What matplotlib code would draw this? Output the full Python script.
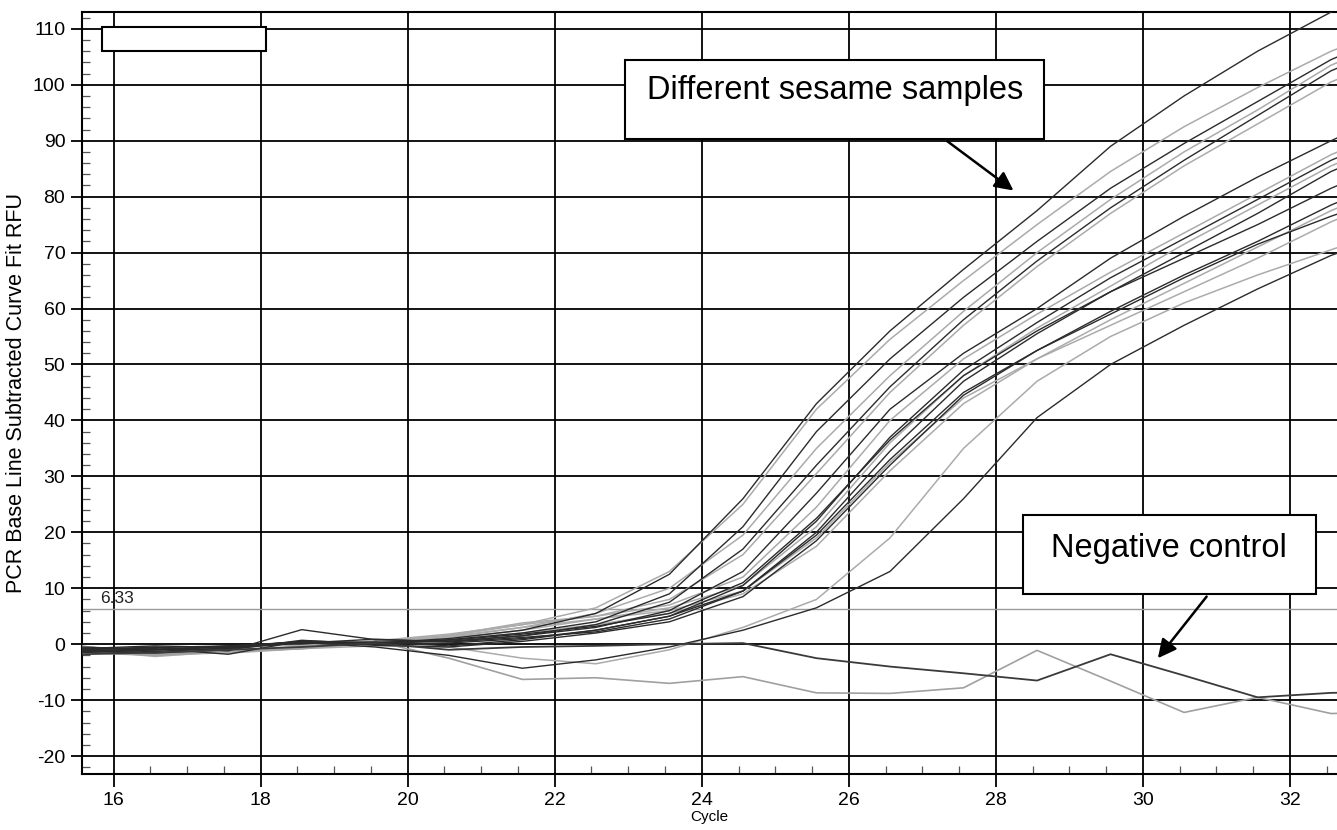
import matplotlib
matplotlib.use("Agg")
import matplotlib.pyplot as plt
from matplotlib.patches import Rectangle
from matplotlib.ticker import MultipleLocator

plt.rcParams['font.family'] = ['Liberation Sans', 'DejaVu Sans']
plt.rcParams['axes.unicode_minus'] = False

# cycle positions of the fitted points
cycles = [15.56, 16.56, 17.56, 18.56, 19.56, 20.56, 21.56, 22.56, 23.56, 24.56,
          25.56, 26.56, 27.56, 28.56, 29.56, 30.56, 31.56, 32.56, 33.56]

# sesame samples, dark traces
dark_a = [-1.0, -0.6, -0.3, 0.4, 0.2, 1.0, 2.5, 5.5, 12.5, 26, 43, 56, 67, 77.5, 89, 98, 106, 113, 119]
dark_c = [-1.5, -1.0, -0.5, 0.5, 0.0, 0.8, 2.0, 4.0, 9.0, 21, 38, 51, 62, 72, 81.5, 89.5, 97, 104.5, 110]
dark_e = [-1.2, -0.8, -1.8, 0.6, 0.2, 0.5, 1.5, 3.5, 7.5, 17, 32, 46, 58, 68.5, 78, 86.5, 94.5, 102.5, 108]
dark_g = [-1.0, -0.5, -1.2, 2.6, 0.8, 0.5, 1.5, 3.0, 6.0, 13, 27, 42, 52, 60, 69, 76.5, 83.5, 90, 96]
dark_i = [-1.3, -1.6, -1.0, 0.7, 0.0, 0.2, 1.0, 2.5, 5.0, 10.5, 22, 37, 49, 57.5, 65.5, 72.5, 79.5, 86.5, 92]
dark_k = [-0.8, -0.3, -0.6, 0.2, 0.9, 0.4, 1.2, 2.2, 4.5, 9.5, 20, 34.5, 47, 55.5, 63, 70, 77, 84.5, 90]
dark_l = [-1.1, -1.3, -0.7, 0.5, -0.2, -0.5, 0.5, 2.0, 4.0, 8.5, 18.5, 32, 44.5, 52.5, 59.5, 66, 72, 78.5, 84]
dark_n = [-1.4, -1.0, -0.3, 0.1, 0.4, -0.3, 0.8, 2.5, 5.0, 9.5, 19.5, 33, 45, 52.5, 59, 65.5, 71.5, 76.5, 81]
dark_p = [-0.7, -0.9, -0.4, 0.4, 0.3, 0.7, 1.8, 3.2, 5.5, 11, 22.5, 36.5, 48, 56, 63, 69, 75, 81.5, 87]
dark_r = [-0.5, -1.0, -0.8, 0.3, -0.5, -2.0, -4.3, -2.8, -0.5, 2.5, 6.5, 13, 26, 40.5, 50, 57, 63.5, 69.5, 74]

# sesame samples, light traces
light_b = [-0.5, -1.2, -0.8, 0.2, 0.5, 1.5, 3.5, 6.5, 13, 25, 42, 54.5, 65, 75, 84.5, 92.5, 99.5, 106, 111]
light_d = [-0.8, -1.5, -1.0, -0.5, 0.4, 1.2, 3.0, 5.5, 10, 19.5, 35, 48, 59.5, 70, 79.5, 88, 95.5, 103.5, 109]
light_f = [-0.3, -2.0, -1.5, -0.3, 0.6, 1.8, 3.5, 5.0, 8.0, 16, 30.5, 45, 57, 67.5, 77, 85.5, 93, 100.5, 106]
light_h = [-0.5, -1.0, -0.4, -0.2, 0.3, 1.6, 3.8, 5.0, 7.0, 12, 24.5, 40, 51, 59, 66.5, 73.5, 80.5, 87.5, 93]
light_j = [-0.6, -0.9, -1.6, -0.8, 0.1, 1.0, 2.5, 4.5, 6.5, 10.5, 21, 36, 48, 56.5, 64, 71.5, 78.5, 85.5, 91]
light_m = [-0.4, -1.5, -1.2, -0.5, 0.2, 0.8, 2.0, 3.5, 5.5, 9.0, 17.5, 31, 43, 51, 58, 64.5, 71, 77.5, 83]
light_o = [-0.9, -2.2, -1.3, -0.6, 0.5, 1.4, 3.0, 4.5, 6.0, 9.5, 19, 32.5, 44, 51, 57, 63, 69, 75.5, 81]
light_q = [-1.0, -1.8, -1.4, -0.8, -0.3, -0.5, -2.5, -3.5, -1.0, 3.0, 8.0, 19, 35, 47, 55, 61, 66, 70.5, 75]

# negative controls
neg_dark = [-1.8, -1.5, -1.0, -0.5, 0.2, -1.0, -0.5, -0.3, 0.0, 0.2, -2.5, -4.0, -5.2, -6.5, -1.8, -5.6, -9.5, -8.7, -8.5]
neg_light = [-1.5, -2.0, -1.2, -0.8, 0.5, -2.5, -6.3, -6.0, -7.0, -5.8, -8.7, -8.8, -7.8, -1.1, -6.6, -12.2, -9.5, -12.4, -12.0]

threshold = 6.33

dark_set = [dark_a, dark_c, dark_e, dark_g, dark_i, dark_k, dark_l, dark_n, dark_p, dark_r]
light_set = [light_b, light_d, light_f, light_h, light_j, light_m, light_o, light_q]

fig = plt.figure(figsize=(13.37, 8.30), dpi=100)
ax = fig.add_axes([0.0613, 0.0675, 0.9387, 0.918])

for ys in light_set:
    ax.plot(cycles, ys, color='#ababab', lw=1.1, zorder=3)
ax.plot(cycles, neg_light, color='#a0a0a0', lw=1.2, zorder=3)
for ys in dark_set:
    ax.plot(cycles, ys, color='#2b2b2b', lw=1.0, zorder=4)
ax.plot(cycles, neg_dark, color='#3a3a3a', lw=1.3, zorder=4)

ax.axhline(threshold, color='#9a9a9a', lw=1.0, zorder=2)
ax.text(15.82, threshold + 1.0, '6.33', fontsize=12.5, color='#222222')

ax.set_xlim(15.57, 32.64)
ax.set_ylim(-23.2, 113.0)
ax.xaxis.set_major_locator(MultipleLocator(2))
ax.xaxis.set_minor_locator(MultipleLocator(0.5))
ax.yaxis.set_major_locator(MultipleLocator(10))
ax.yaxis.set_minor_locator(MultipleLocator(2))
ax.tick_params(which='major', direction='out', length=8, width=1.3, labelsize=14, pad=4)
ax.tick_params(axis='x', which='major', length=9)
ax.tick_params(which='minor', direction='in', length=6, width=0.9, color='#555555')
ax.grid(which='major', color='black', lw=1.3)
ax.set_axisbelow(True)
for side in ['left', 'bottom', 'top']:
    ax.spines[side].set_linewidth(1.5)
ax.spines['right'].set_visible(False)

ax.set_xlabel('Cycle', fontsize=11, labelpad=1)
ax.set_ylabel('PCR Base Line Subtracted Curve Fit RFU', fontsize=15.5, labelpad=4)

# empty legend box at the top left
ax.add_patch(Rectangle((15.84, 106.0), 2.23, 4.3, facecolor='white', edgecolor='black', lw=1.5, zorder=6))

# annotation boxes
ax.add_patch(Rectangle((22.96, 90.3), 5.70, 14.1, facecolor='white', edgecolor='black', lw=1.5, zorder=6))
ax.text(25.81, 98.9, 'Different sesame samples', fontsize=23.5, ha='center', va='center', zorder=7)
ax.annotate('', xy=(28.27, 80.8), xytext=(27.31, 90.2),
            arrowprops=dict(arrowstyle='-|>', color='black', lw=1.8, mutation_scale=28), zorder=7)

ax.add_patch(Rectangle((28.37, 9.0), 3.98, 14.1, facecolor='white', edgecolor='black', lw=1.5, zorder=6))
ax.text(30.36, 17.1, 'Negative control', fontsize=23.5, ha='center', va='center', zorder=7)
ax.annotate('', xy=(30.18, -2.9), xytext=(30.89, 8.9),
            arrowprops=dict(arrowstyle='-|>', color='black', lw=1.8, mutation_scale=28), zorder=7)

fig.savefig('out.png', dpi=100, facecolor='white')
